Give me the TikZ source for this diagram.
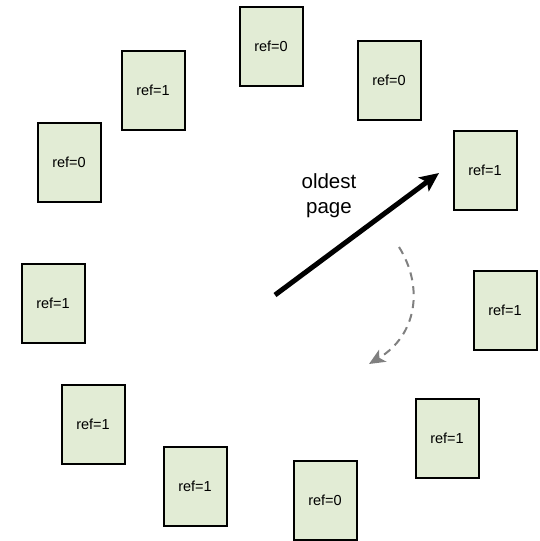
\documentclass[tikz,border=0pt]{standalone}
\usepackage{fontspec}
\setmainfont{Liberation Sans}
\usetikzlibrary{arrows.meta}
\definecolor{pagefill}{RGB}{226,236,213}
\definecolor{sweepgrey}{RGB}{128,128,128}
\tikzset{
  pagebox/.style={draw=black, line width=2pt, fill=pagefill,
    minimum width=63pt, minimum height=79pt, inner sep=0pt,
    font=\fontsize{14.5}{17}\selectfont},
  handarrow/.style={line width=5pt, -{Stealth[length=19pt,width=17pt,inset=4pt]}},
  sweeparrow/.style={draw=sweepgrey, line width=2pt, dash pattern=on 8pt off 6pt,
    -{Stealth[length=16pt,width=14pt,inset=4pt]}}
}
\begin{document}
\begin{tikzpicture}[x=1pt,y=-1pt]
\useasboundingbox (0,0) rectangle (539,541);
% pages arranged around the clock face
\node[pagebox] (p1)  at (271,46)  {ref=0};
\node[pagebox] (p2)  at (389,80)  {ref=0};
\node[pagebox] (p3)  at (485,170) {ref=1};
\node[pagebox] (p4)  at (505,310) {ref=1};
\node[pagebox] (p5)  at (447,438) {ref=1};
\node[pagebox] (p6)  at (325,500) {ref=0};
\node[pagebox] (p7)  at (195,486) {ref=1};
\node[pagebox] (p8)  at (93,424)  {ref=1};
\node[pagebox] (p9)  at (53,303)  {ref=1};
\node[pagebox] (p10) at (69,162)  {ref=0};
\node[pagebox] (p11) at (153,90)  {ref=1};
% clock hand
\coordinate (hub) at (275,295);
\coordinate (tip) at (439,173);
\draw[handarrow] (hub) -- (tip);
\node[align=center, font=\fontsize{20.5}{25}\selectfont] (lbl) at (329,196) {oldest\\page};
% direction of the sweep
\coordinate (swA) at (399,247);
\coordinate (swB) at (369,364);
\draw[sweeparrow] (swA) .. controls (424,287) and (417,335) .. (swB);
\end{tikzpicture}
\end{document}
